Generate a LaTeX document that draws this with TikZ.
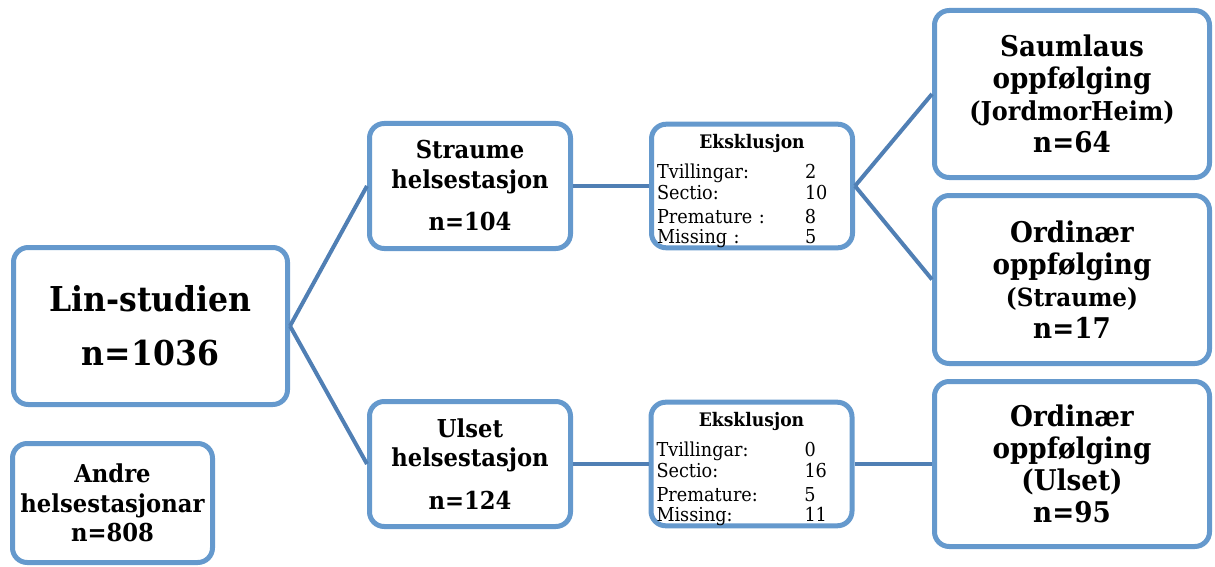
\documentclass[tikz,border=0pt]{standalone}
\usepackage{fontspec}
\setmainfont{DejaVu Serif}[FakeStretch=0.92]
\usepackage{tikz}
\definecolor{boxblue}{RGB}{101,153,205}
\definecolor{lineblue}{RGB}{80,127,180}

\begin{document}
\begin{tikzpicture}[x=0.75pt,y=-0.75pt,-,line width=3pt,draw=lineblue]
  \tikzstyle{box}=[draw=boxblue,line width=3.75pt,rounded corners=11pt,
                   fill=white,align=center,inner sep=0pt,text=black]
  \tikzstyle{midbox}=[box,minimum width=150.75pt,minimum height=93.75pt,
                      font=\fontsize{18.5}{22}\selectfont\bfseries]
  \tikzstyle{endbox}=[box,minimum width=206.25pt,minimum height=125.25pt,
                      font=\fontsize{21.4}{24}\selectfont\bfseries]
  \tikzstyle{exclbox}=[box,minimum width=150.75pt,minimum height=91pt,
                       text width=142.5pt,align=left,
                       font=\fontsize{14.4}{15.75}\selectfont]
  \useasboundingbox (0,0) rectangle (1215,567);

  \node[box,minimum width=205.5pt,minimum height=117.75pt,
        font=\fontsize{25.7}{40.5}\selectfont\bfseries]
                       (lin)      at (150.5,326)  {Lin-studien\\n=1036};
  \node[midbox,minimum width=150pt,minimum height=89.25pt]
                       (andre)    at (112.5,503)  {Andre\\helsestasjonar\\n=808};
  \node[midbox]        (straume)  at (470,186)    {Straume\\helsestasjon\\[10pt]n=104};
  \node[midbox]        (ulset)    at (470,464)    {Ulset\\helsestasjon\\[10pt]n=124};
  \node[exclbox]       (exclS)    at (752,186)
    {\makebox[142.5pt][c]{\rule{0pt}{18pt}\fontsize{14}{16}\selectfont\bfseries Eksklusjon}\\[7pt]
     \makebox[111pt][l]{Tvillingar:}2\\
     \makebox[111pt][l]{Sectio:}10\\[2.25pt]
     \makebox[111pt][l]{Premature :}8\\[-0.75pt]
     \makebox[111pt][l]{Missing :}5};
  \node[exclbox,minimum height=89pt]
                       (exclU)    at (751.5,464)
    {\makebox[142.5pt][c]{\rule{0pt}{18pt}\fontsize{14}{16}\selectfont\bfseries Eksklusjon}\\[7pt]
     \makebox[111pt][l]{Tvillingar:}0\\
     \makebox[111pt][l]{Sectio:}16\\[2.25pt]
     \makebox[111pt][l]{Premature:}5\\[-0.75pt]
     \makebox[111pt][l]{Missing:}11};
  \node[endbox]        (saum)     at (1072,94)
    {Saumlaus\\oppfølging\\{\fontsize{19.5}{24}\selectfont (JordmorHeim)}\\n=64};
  \node[endbox,minimum height=126pt]
                       (ordS)     at (1072,279.5)
    {Ordinær\\oppfølging\\{\fontsize{18.8}{24}\selectfont (Straume)}\\n=17};
  \node[endbox,minimum height=123.75pt]
                       (ordU)     at (1072,464)
    {Ordinær\\oppfølging\\(Ulset)\\n=95};

  \path (lin.east)   edge (straume.west)
                     edge (ulset.west)
        (straume.east) edge (exclS.west)
        (exclS.east) edge (saum.west)
                     edge (ordS.west)
        (ulset.east) edge (exclU.west)
        (exclU.east) edge (ordU.west);
\end{tikzpicture}
\end{document}
